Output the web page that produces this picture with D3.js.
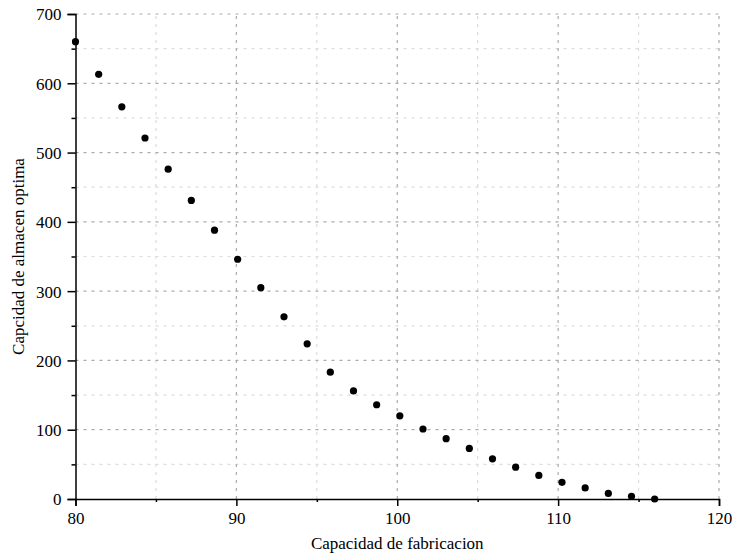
<!DOCTYPE html>
<html>
<head>
<meta charset="utf-8">
<script src="https://cdn.jsdelivr.net/npm/d3@7"></script>
<style>
body { margin: 0; background: #fff; }
svg { display: block; }
</style>
</head>
<body>
<svg id="chart" width="733" height="556"></svg>
<script>
const xValues = [80, 81.44, 82.88, 84.32, 85.76, 87.2, 88.64, 90.08, 91.52, 92.96, 94.4, 95.84, 97.28, 98.72, 100.16, 101.6, 103.04, 104.48, 105.92, 107.36, 108.8, 110.24, 111.68, 113.12, 114.56, 116];
const yValues = [660, 613, 566, 521, 476, 431, 388, 346, 305, 263, 224, 183, 156, 136, 120, 101, 87, 73, 58, 46, 34, 24, 16, 8, 4, 0];
const xTicks = [80, 90, 100, 110, 120];
const xMinor = [85, 95, 105, 115];
const yTicks = [0, 100, 200, 300, 400, 500, 600, 700];
const yMinor = [50, 150, 250, 350, 450, 550, 650];
const xTitle = "Capacidad de fabricacion";
const yTitle = "Capcidad de almacen optima";

const margin = {left: 75.5, right: 14, top: 14, bottom: 57};
const W = 733, H = 556;
const svg = d3.select("#chart");
const x = d3.scaleLinear().domain([80, 120]).range([margin.left, W - margin.right]);
const y = d3.scaleLinear().domain([0, 700]).range([H - margin.bottom, margin.top]);
const font = "'Liberation Serif', 'Times New Roman', serif";

// minor grid
const g = svg.append("g");
g.selectAll(".vmin").data(xMinor).join("line")
  .attr("x1", d => x(d)).attr("x2", d => x(d))
  .attr("y1", y(0)).attr("y2", y(700))
  .attr("stroke", "#dcdcdc").attr("stroke-width", 1.2).attr("stroke-dasharray", "3,5");
g.selectAll(".hmin").data(yMinor).join("line")
  .attr("x1", x(80)).attr("x2", x(120))
  .attr("y1", d => y(d)).attr("y2", d => y(d))
  .attr("stroke", "#dcdcdc").attr("stroke-width", 1.2).attr("stroke-dasharray", "3,5");
// major grid
g.selectAll(".vmaj").data(xTicks.filter(d => d !== 80)).join("line")
  .attr("x1", d => x(d)).attr("x2", d => x(d))
  .attr("y1", y(0)).attr("y2", y(700))
  .attr("stroke", "#aaaaaa").attr("stroke-width", 1.2).attr("stroke-dasharray", "3,5");
g.selectAll(".hmaj").data(yTicks.filter(d => d !== 0)).join("line")
  .attr("x1", x(80)).attr("x2", x(120))
  .attr("y1", d => y(d)).attr("y2", d => y(d))
  .attr("stroke", "#aaaaaa").attr("stroke-width", 1.2).attr("stroke-dasharray", "3,5");

// axes
const xAxis = svg.append("g").attr("transform", `translate(0,${y(0)})`)
  .call(d3.axisBottom(x).tickValues(xTicks).tickFormat(d3.format("d")).tickSize(7).tickPadding(6));
const xAxisMinor = svg.append("g").attr("transform", `translate(0,${y(0)})`)
  .call(d3.axisBottom(x).tickValues(xMinor).tickFormat("").tickSize(3));
const yAxis = svg.append("g").attr("transform", `translate(${x(80)},0)`)
  .call(d3.axisLeft(y).tickValues(yTicks).tickFormat(d3.format("d")).tickSize(8).tickPadding(6));
const yAxisMinor = svg.append("g").attr("transform", `translate(${x(80)},0)`)
  .call(d3.axisLeft(y).tickValues(yMinor).tickFormat("").tickSize(4));

[xAxis, xAxisMinor, yAxis, yAxisMinor].forEach(a => {
  a.select(".domain").attr("stroke", "#000").attr("stroke-width", 1.5);
  a.selectAll(".tick line").attr("stroke", "#000").attr("stroke-width", 1.5);
  a.selectAll(".tick text").attr("fill", "#000").style("font-family", font).style("font-size", "17px");
});
xAxisMinor.select(".domain").remove();
yAxisMinor.select(".domain").remove();
yAxis.selectAll(".tick text").attr("dy", "0.35em");

// points
svg.append("g").selectAll("circle")
  .data(xValues.map((v, i) => ({x: v, y: yValues[i]})))
  .join("circle")
  .attr("cx", d => x(d.x)).attr("cy", d => y(d.y))
  .attr("r", 3.6).attr("fill", "#000");

// titles
svg.append("text")
  .attr("x", (x(80) + x(120)) / 2).attr("y", 549)
  .attr("text-anchor", "middle")
  .style("font-family", font).style("font-size", "17px").attr("fill", "#000")
  .text(xTitle);
svg.append("text")
  .attr("transform", `translate(24,${(y(0) + y(700)) / 2}) rotate(-90)`)
  .attr("text-anchor", "middle")
  .style("font-family", font).style("font-size", "17px").attr("fill", "#000")
  .text(yTitle);
</script>
</body>
</html>
